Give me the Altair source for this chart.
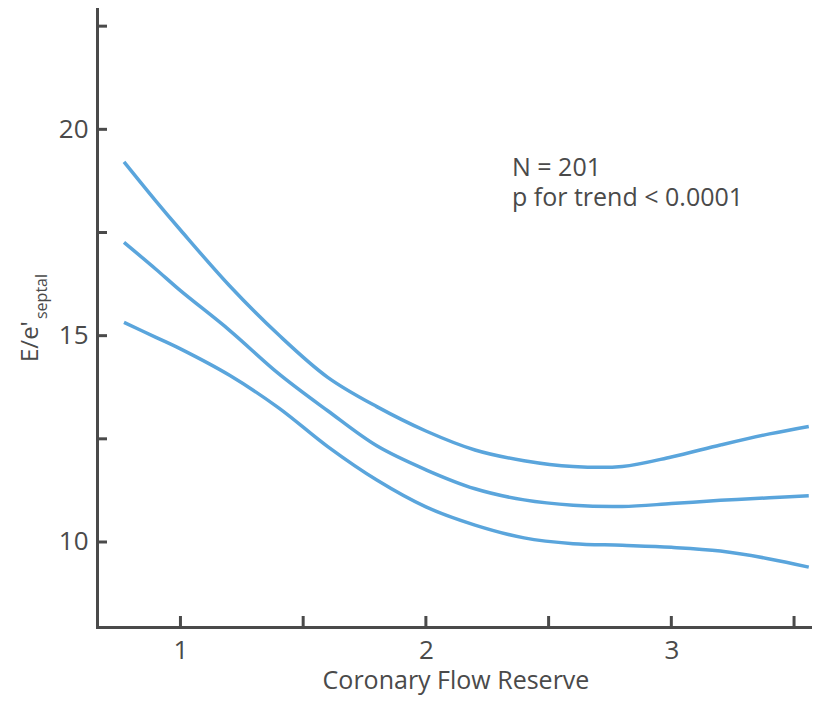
import altair as alt
import pandas as pd

# ---- data ----
x_vals = [0.77, 0.9, 1.0, 1.2, 1.4, 1.6, 1.8, 2.0, 2.2, 2.4, 2.6, 2.8, 3.0, 3.2, 3.4, 3.56]
upper = [19.21, 18.26, 17.56, 16.21, 15.02, 13.99, 13.28, 12.69, 12.23, 11.97, 11.83, 11.83, 12.06, 12.35, 12.62, 12.80]
middle = [17.26, 16.61, 16.09, 15.13, 14.08, 13.18, 12.33, 11.75, 11.29, 11.02, 10.89, 10.86, 10.93, 11.01, 11.07, 11.12]
lower = [15.32, 14.96, 14.68, 14.04, 13.25, 12.31, 11.50, 10.85, 10.41, 10.10, 9.96, 9.92, 9.87, 9.78, 9.59, 9.39]

x_label_values = [1, 2, 3]
x_tick_values = [1, 1.5, 2, 2.5, 3, 3.5]
y_label_values = [10, 15, 20]
y_tick_values = [10, 12.5, 15, 17.5, 20, 22.5]

x_title = ["Coronary Flow Reserve"]
y_title_main = ["E/e'"]
y_title_sub = ["septal"]
annotation_1 = ["N = 201"]
annotation_2 = ["p for trend < 0.0001"]

LINE = "#5aa5dc"
AX = "#4a4a4a"
FONT = "Open Sans"
W, H = 713, 619

rows = []
for name, ys in (("upper", upper), ("middle", middle), ("lower", lower)):
    for xv, yv in zip(x_vals, ys):
        rows.append({"series": name, "x": xv, "y": yv})
df = pd.DataFrame(rows)

x_scale = alt.Scale(domain=[0.66, 3.565], nice=False, zero=False)
y_scale = alt.Scale(domain=[7.94, 22.94], nice=False, zero=False)

x_axis = alt.Axis(values=x_label_values, ticks=False, tickSize=0, grid=False, format="d",
                  labelFontSize=26, labelPadding=10, labelColor=AX, labelFont=FONT,
                  domainColor=AX, domainWidth=3, domainCap="square", title=None)
y_axis = alt.Axis(values=y_label_values, ticks=False, tickSize=0, grid=False, format="d",
                  labelFontSize=26, labelPadding=9, labelColor=AX, labelFont=FONT,
                  domainColor=AX, domainWidth=3, domainCap="square", title=None)

lines = alt.Chart(df).mark_line(color=LINE, strokeWidth=3.5, interpolate="catmull-rom").encode(
    x=alt.X("x:Q", scale=x_scale, axis=x_axis),
    y=alt.Y("y:Q", scale=y_scale, axis=y_axis),
    detail="series:N",
)

yticks = alt.Chart(pd.DataFrame({"y": y_tick_values})).mark_rule(color=AX, strokeWidth=3).encode(
    y=alt.Y("y:Q", scale=y_scale, axis=y_axis),
    x=alt.value(0), x2=alt.value(10),
)
xticks = alt.Chart(pd.DataFrame({"x": x_tick_values})).mark_rule(color=AX, strokeWidth=3).encode(
    x=alt.X("x:Q", scale=x_scale, axis=x_axis),
    y=alt.value(H), y2=alt.value(H - 11),
)

def label(texts, size, x, y, align="left", angle=0):
    return alt.Chart(pd.DataFrame({"t": texts})).mark_text(
        fontSize=size, font=FONT, color=AX, align=align, baseline="alphabetic", angle=angle
    ).encode(text="t:N", x=alt.value(x), y=alt.value(y))

xt = label(x_title, 25, 359, 681, align="center")
yt1 = label(y_title_main, 24, -59, 354, angle=270)
yt2 = label(y_title_sub, 16, -50, 311, angle=270)
ann1 = label(annotation_1, 25, 415, 168)
ann2 = label(annotation_2, 25, 415, 198)

chart = alt.layer(lines, yticks, xticks, xt, yt1, yt2, ann1, ann2).properties(
    width=W, height=H,
    autosize=alt.AutoSizeParams(type="none"),
    padding={"left": 89, "top": 0, "right": 3, "bottom": 69},
    background="white",
).configure_view(stroke=None)

chart.save("out.html", embed_options={"renderer": "svg", "actions": False})
